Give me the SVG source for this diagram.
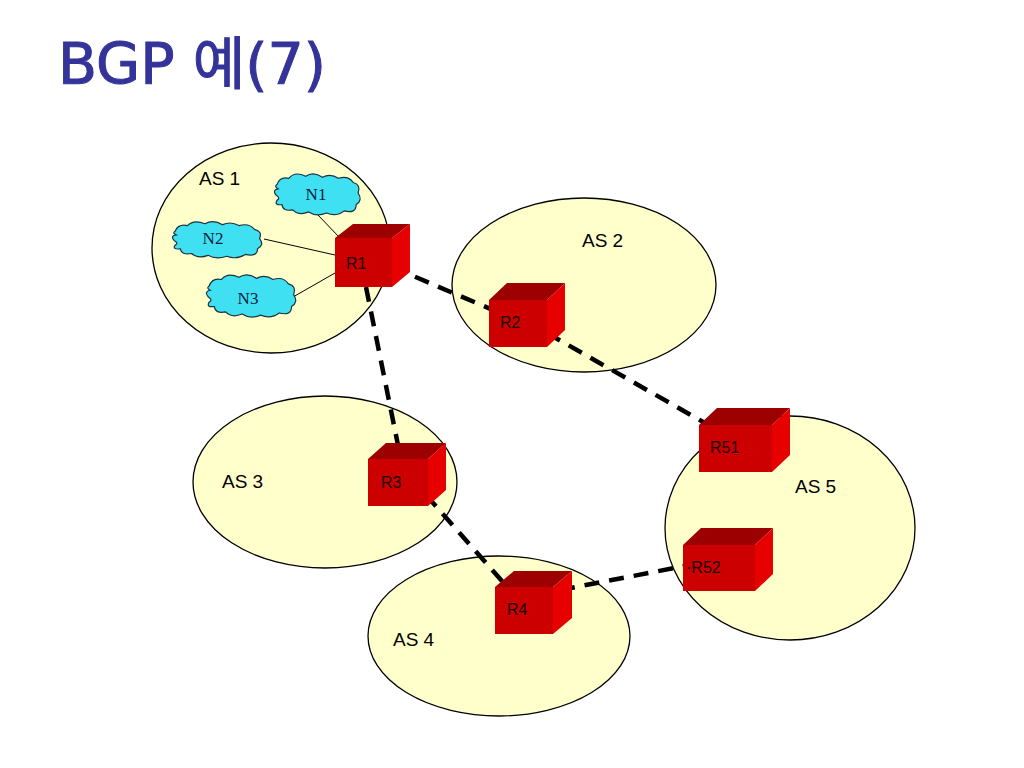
<svg xmlns="http://www.w3.org/2000/svg" xmlns:xlink="http://www.w3.org/1999/xlink" width="1024" height="768" viewBox="0 0 1024 768">
<style>
.as{fill:#ffffcc;stroke:#000;stroke-width:1.3}
.aslbl{font-family:"Liberation Sans",Arial,sans-serif;font-size:19px;fill:#000}
.cloud{fill:#3ee0f2;stroke:#1a3340;stroke-width:1.2}
.nlbl{font-family:"Liberation Serif","Times New Roman",serif;font-size:17px;fill:#0a1a3a;text-anchor:middle}
.front{fill:#cc0000}
.top{fill:#9c0000}
.side{fill:#e60000}
.rlbl{font-family:"Liberation Sans",Arial,sans-serif;font-size:16px;fill:#1a0000}
.thin{stroke:#000;stroke-width:1;fill:none}
.dash{stroke:#000;stroke-width:4.5;stroke-dasharray:15 10;fill:none}
</style>
<defs>
<path id="cloudShape" vector-effect="non-scaling-stroke" d="M4,12 Q7,4 16,6 Q22,-1 33,4 Q41,-1 50,5 Q58,1 66,6 Q76,3 81,10 Q89,12 86,20 Q91,27 84,31 Q84,40 72,37 Q64,43 54,39 Q44,43 36,38 Q26,42 20,36 Q10,38 9,31 Q1,32 4,27 Q8,25 3,22 Q-1,17 5,16 Q1,14 4,12 Z"/>
</defs>
<rect width="1024" height="768" fill="#fff"/>
<text x="58" y="84" font-family="'DejaVu Sans','Noto Sans CJK KR',sans-serif" font-size="57" fill="#333399" stroke="#333399" stroke-width="1">BGP 예(7)</text>

<g id="as1"><ellipse class="as" cx="271" cy="248" rx="119" ry="105"/><text class="aslbl" x="199" y="185">AS 1</text></g>
<g id="as2"><ellipse class="as" cx="584" cy="285" rx="132" ry="87"/><text class="aslbl" x="582" y="247">AS 2</text></g>
<g id="as3"><ellipse class="as" cx="325" cy="482" rx="132" ry="86"/><text class="aslbl" x="222" y="488">AS 3</text></g>
<g id="as4"><ellipse class="as" cx="499" cy="636" rx="131" ry="80"/><text class="aslbl" x="393" y="646">AS 4</text></g>
<g id="as5"><ellipse class="as" cx="790" cy="528" rx="125" ry="112"/><text class="aslbl" x="795" y="493">AS 5</text></g>

<g id="connectors">
<line class="thin" x1="317" y1="214" x2="340" y2="238"/>
<line class="thin" x1="264" y1="239" x2="335" y2="255"/>
<line class="thin" x1="293" y1="297" x2="335" y2="273"/>
<line class="dash" x1="392" y1="267" x2="500" y2="313"/>
<line class="dash" x1="547" y1="333" x2="712" y2="427"/>
<line class="dash" x1="366" y1="287" x2="400" y2="455"/>
<line class="dash" x1="426" y1="495" x2="510" y2="590"/>
<line class="dash" x1="560" y1="590" x2="690" y2="565"/>
</g>

<g id="n1"><use xlink:href="#cloudShape" class="cloud" transform="translate(273,172) scale(0.99,1.05)"/><text class="nlbl" x="316" y="200">N1</text></g>
<g id="n2"><use xlink:href="#cloudShape" class="cloud" transform="translate(171,220) scale(1.03,0.93)"/><text class="nlbl" x="213" y="244">N2</text></g>
<g id="n3"><use xlink:href="#cloudShape" class="cloud" transform="translate(205,273) scale(1.03,1.08)"/><text class="nlbl" x="248" y="304">N3</text></g>

<g id="r1">
<polygon class="top" points="335,238 353,224 410,224 392,238"/>
<polygon class="side" points="392,238 410,224 410,272 392,287"/>
<rect class="front" x="335" y="238" width="57" height="49"/>
<text class="rlbl" x="346" y="269">R1</text>
</g>
<g id="r2">
<polygon class="top" points="489,300 507,283 565,283 547,300"/>
<polygon class="side" points="547,300 565,283 565,330 547,347"/>
<rect class="front" x="489" y="300" width="58" height="47"/>
<text class="rlbl" x="500" y="328">R2</text>
</g>
<g id="r3">
<polygon class="top" points="368,459 386,443 446,443 428,459"/>
<polygon class="side" points="428,459 446,443 446,490 428,506"/>
<rect class="front" x="368" y="459" width="60" height="47"/>
<text class="rlbl" x="381" y="488">R3</text>
</g>
<g id="r4">
<polygon class="top" points="495,587 514,571 572,571 553,587"/>
<polygon class="side" points="553,587 572,571 572,618 553,634"/>
<rect class="front" x="495" y="587" width="58" height="47"/>
<text class="rlbl" x="507" y="615">R4</text>
</g>
<g id="r51">
<polygon class="top" points="699,425 717,408 790,408 772,425"/>
<polygon class="side" points="772,425 790,408 790,455 772,472"/>
<rect class="front" x="699" y="425" width="73" height="47"/>
<text class="rlbl" x="710" y="453">R51</text>
</g>
<g id="r52">
<polygon class="top" points="683,545 701,528 773,528 755,545"/>
<polygon class="side" points="755,545 773,528 773,574 755,591"/>
<rect class="front" x="683" y="545" width="72" height="46"/>
<text class="rlbl" x="686" y="573">·R52</text>
</g>
</svg>
